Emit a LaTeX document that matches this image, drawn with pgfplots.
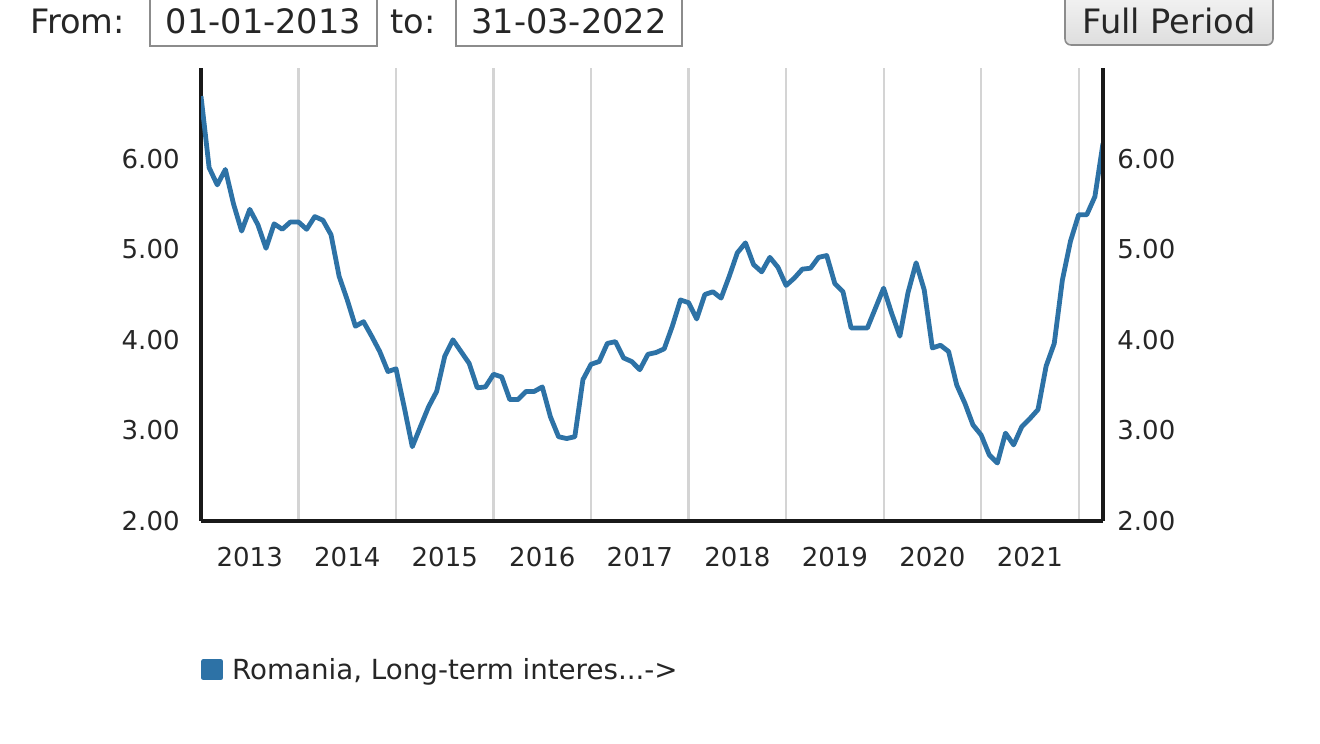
\documentclass[border=0pt]{standalone}
\usepackage{fontspec}
\setmainfont{DejaVu Sans}
\usepackage{pgfplots}
\usepackage{pgfplotstable}
\pgfplotsset{compat=1.18}

\definecolor{series}{HTML}{2D72A6}
\definecolor{gridgray}{HTML}{D4D4D4}
\definecolor{boxborder}{HTML}{8C8C8C}
\definecolor{btntop}{HTML}{F3F3F3}
\definecolor{btnbottom}{HTML}{DEDEDE}

% Monthly long-term interest rate, Romania (month index from Jan 2013)
\pgfplotstableread{
m r
0 6.69
1 5.90
2 5.71
3 5.88
4 5.50
5 5.20
6 5.44
7 5.27
8 5.01
9 5.28
10 5.22
11 5.30
12 5.30
13 5.22
14 5.36
15 5.32
16 5.16
17 4.70
18 4.44
19 4.15
20 4.20
21 4.04
22 3.87
23 3.65
24 3.68
25 3.26
26 2.82
27 3.04
28 3.26
29 3.43
30 3.82
31 4.00
32 3.87
33 3.74
34 3.47
35 3.48
36 3.62
37 3.59
38 3.34
39 3.34
40 3.43
41 3.43
42 3.48
43 3.15
44 2.93
45 2.91
46 2.93
47 3.56
48 3.73
49 3.76
50 3.96
51 3.98
52 3.80
53 3.76
54 3.67
55 3.84
56 3.86
57 3.90
58 4.15
59 4.44
60 4.41
61 4.23
62 4.50
63 4.53
64 4.46
65 4.70
66 4.96
67 5.07
68 4.83
69 4.75
70 4.91
71 4.80
72 4.60
73 4.68
74 4.78
75 4.79
76 4.91
77 4.93
78 4.62
79 4.53
80 4.13
81 4.13
82 4.13
83 4.35
84 4.57
85 4.29
86 4.04
87 4.52
88 4.85
89 4.55
90 3.91
91 3.94
92 3.87
93 3.50
94 3.30
95 3.06
96 2.95
97 2.73
98 2.64
99 2.97
100 2.84
101 3.04
102 3.13
103 3.23
104 3.71
105 3.96
106 4.66
107 5.09
108 5.38
109 5.38
110 5.58
111 6.17
}\ratetable

\newcommand{\uifont}{\fontsize{16.8}{19}\selectfont}
\newcommand{\tickfont}{\fontsize{13}{15}\selectfont}

\begin{document}
\begin{tikzpicture}[x=0.5pt,y=0.5pt]
\useasboundingbox (0,0) rectangle (1320,743);

% date range controls
\node[anchor=base west, inner sep=0pt, font=\uifont, text=black!85] at (30,709.5) {From:};
\draw[boxborder, line width=0.8pt, fill=white] (150,697) rectangle (377,750);
\node[anchor=base, inner sep=0pt, font=\uifont, text=black!85] at (263.5,709.5) {01-01-2013};
\node[anchor=base west, inner sep=0pt, font=\uifont, text=black!85] at (390,709.5) {to:};
\draw[boxborder, line width=0.8pt, fill=white] (456,697) rectangle (682,750);
\node[anchor=base, inner sep=0pt, font=\uifont, text=black!85] at (569,709.5) {31-03-2022};
\shade[top color=btntop, bottom color=btnbottom, rounded corners=3pt] (1065,698) rectangle (1273,750);
\draw[boxborder, line width=0.8pt, rounded corners=3pt] (1065,698) rectangle (1273,750);
\node[anchor=base, inner sep=0pt, font=\uifont, text=black!85] at (1169,709.5) {Full Period};

\begin{axis}[
  at={(100.5pt,111pt)}, anchor=south west,
  width=451pt, height=226.5pt, scale only axis,
  xmin=0, xmax=111, ymin=2, ymax=7,
  axis x line*=bottom, axis y line*=left,
  axis line style={line width=1.6pt, black!90},
  xtick={6,18,30,42,54,66,78,90,102},
  xticklabels={2013,2014,2015,2016,2017,2018,2019,2020,2021},
  minor xtick={12,24,36,48,60,72,84,96,108},
  xminorgrids,
  minor grid style={gridgray, line width=1.1pt},
  major tick length=0pt, minor tick length=0pt,
  ytick={2,3,4,5,6},
  yticklabels={2.00,3.00,4.00,5.00,6.00},
  tick label style={font=\tickfont, inner sep=0pt, text=black!85},
  xticklabel style={anchor=north, yshift=-13pt},
  yticklabel style={anchor=east, xshift=-10.5pt},
  legend style={at={(axis description cs:0,0)}, anchor=west, yshift=-74.75pt,
    draw=none, fill=none, inner sep=0pt, font=\fontsize{13.85}{16}\selectfont,
    nodes={inner sep=0pt, text=black!85}},
  legend cell align=left,
  legend image code/.code={
    \fill[series] (0pt,-3.7pt) rectangle (8.4pt,4.7pt);
    \path (13pt,0pt);
  },
]
\addplot[series, line width=2.4pt, line join=round] table[x=m, y=r] {\ratetable};
\addlegendentry{Romania, Long-term interes...->}
\end{axis}

% value scale repeated on the right
\begin{axis}[
  at={(100.5pt,111pt)}, anchor=south west,
  width=451pt, height=226.5pt, scale only axis,
  xmin=0, xmax=111, ymin=2, ymax=7,
  hide x axis, axis y line*=right,
  axis line style={line width=1.6pt, black!90},
  major tick length=0pt,
  ytick={2,3,4,5,6},
  yticklabels={2.00,3.00,4.00,5.00,6.00},
  yticklabel style={font=\tickfont, inner sep=0pt, text=black!85, anchor=west, xshift=7pt},
]
\end{axis}
\end{tikzpicture}
\end{document}
